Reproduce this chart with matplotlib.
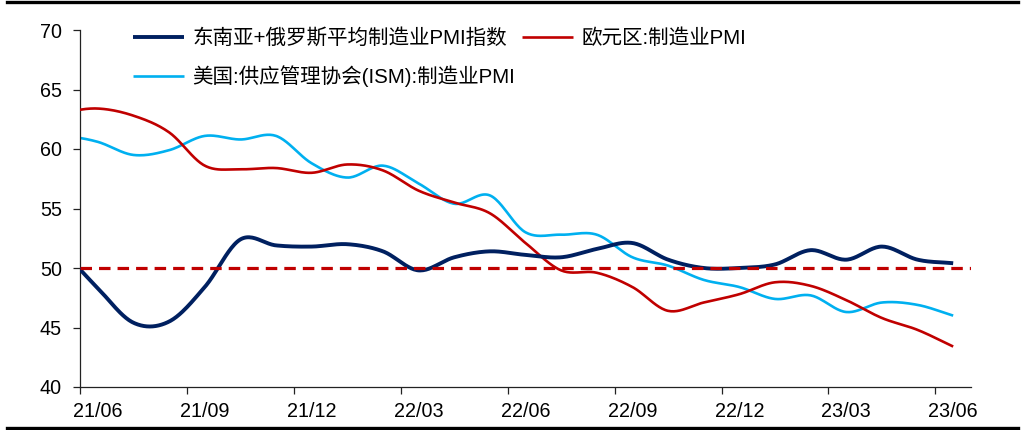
import numpy as np
import matplotlib
matplotlib.use('Agg')
import matplotlib.pyplot as plt
from matplotlib.lines import Line2D

plt.rcParams['font.family'] = ['Liberation Sans', 'Noto Sans CJK SC']

# monthly data, 2021/05 .. 2023/06 (the 2021/05 point sits left of the axis and gets clipped)
months = ['21/05', '21/06', '21/07', '21/08', '21/09', '21/10', '21/11', '21/12',
          '22/01', '22/02', '22/03', '22/04', '22/05', '22/06', '22/07', '22/08',
          '22/09', '22/10', '22/11', '22/12', '23/01', '23/02', '23/03', '23/04',
          '23/05', '23/06']
sea_russia = [51.5, 48.3, 45.4, 45.5, 48.4, 52.4, 51.9, 51.8, 52.0, 51.4, 49.8, 50.9,
              51.4, 51.1, 50.9, 51.6, 52.1, 50.7, 50.0, 50.0, 50.3, 51.5, 50.7, 51.8,
              50.7, 50.4]
eurozone = [63.1, 63.4, 62.8, 61.4, 58.6, 58.3, 58.4, 58.0, 58.7, 58.2, 56.5, 55.5,
            54.6, 52.1, 49.8, 49.6, 48.4, 46.4, 47.1, 47.8, 48.8, 48.5, 47.3, 45.8,
            44.8, 43.4]
us_ism = [61.2, 60.6, 59.5, 59.9, 61.1, 60.8, 61.1, 58.8, 57.6, 58.6, 57.1, 55.4,
          56.1, 53.0, 52.8, 52.8, 50.9, 50.2, 49.0, 48.4, 47.4, 47.7, 46.3, 47.1,
          46.9, 46.0]
tick_labels = ['21/06', '21/09', '21/12', '22/03', '22/06', '22/09', '22/12', '23/03', '23/06']

NAVY = '#002060'
RED = '#C00000'
CYAN = '#00B0F0'


def smooth(x, y, n=24):
    """Catmull-Rom curve through the points (like Excel's smoothed line)."""
    x = np.asarray(x, float)
    y = np.asarray(y, float)
    xp = np.concatenate([[2 * x[0] - x[1]], x, [2 * x[-1] - x[-2]]])
    yp = np.concatenate([[2 * y[0] - y[1]], y, [2 * y[-1] - y[-2]]])
    t = np.linspace(0, 1, n, endpoint=False)
    xs, ys = [], []
    for i in range(1, len(x)):
        for arr, out in ((xp, xs), (yp, ys)):
            p0, p1, p2, p3 = arr[i - 1], arr[i], arr[i + 1], arr[i + 2]
            out.append(0.5 * (2 * p1 + (p2 - p0) * t
                              + (2 * p0 - 5 * p1 + 4 * p2 - p3) * t ** 2
                              + (3 * p1 - p0 - 3 * p2 + p3) * t ** 3))
    xs.append([x[-1]])
    ys.append([y[-1]])
    return np.concatenate(xs), np.concatenate(ys)


x = np.arange(len(months)) - 1          # 21/06 -> 0
label_pos = [months.index(m) - 1 for m in tick_labels]

fig = plt.figure(figsize=(10.27, 4.30), dpi=100)
ax = fig.add_axes([80 / 1027, 1 - 387 / 430, 891 / 1027, 357 / 430])

l1, = ax.plot(*smooth(x, sea_russia), color=NAVY, lw=2.8, solid_capstyle='butt',
              label='东南亚+俄罗斯平均制造业PMI指数', zorder=4)
l2, = ax.plot(*smooth(x, eurozone), color=RED, lw=1.9, solid_capstyle='butt',
              label='欧元区:制造业PMI', zorder=3)
l3, = ax.plot(*smooth(x, us_ism), color=CYAN, lw=1.9, solid_capstyle='butt',
              label='美国:供应管理协会(ISM):制造业PMI', zorder=2)
ax.axhline(50, color=RED, lw=2.3, dashes=(3.6, 2.2), dash_capstyle='butt', zorder=5)

ax.set_xlim(-0.5, len(months) - 1.5)
ax.set_ylim(40, 70)
ax.set_yticks(np.arange(40, 71, 5))

# tick marks at month boundaries, labels centred on the month
ax.set_xticks([p - 0.5 for p in label_pos])
ax.set_xticklabels([])
ax.set_xticks(label_pos, minor=True)
ax.set_xticklabels(tick_labels, minor=True)
ax.tick_params(axis='x', which='major', direction='out', length=5, width=0.9, color='#222222')
ax.tick_params(axis='x', which='minor', length=0, pad=11, labelsize=14.2)
ax.tick_params(axis='y', direction='out', length=5, width=0.9, pad=8, labelsize=14.2,
               color='#222222')

for s in ('top', 'right'):
    ax.spines[s].set_visible(False)
for s in ('left', 'bottom'):
    ax.spines[s].set_color('#222222')
    ax.spines[s].set_linewidth(0.9)

ax.legend(handles=[l1, l3, l2], ncol=2, loc='upper left',
          bbox_to_anchor=(133 / 1027, 1 - 28 / 430), bbox_transform=fig.transFigure,
          frameon=False, fontsize=14.8, handlelength=2.5, handletextpad=0.4,
          columnspacing=0.3, labelspacing=0.85, borderpad=0, borderaxespad=0)

# black rules above and below the chart
fig.add_artist(Line2D([7 / 1027, 1018 / 1027], [1 - 1.5 / 430] * 2,
                      transform=fig.transFigure, color='black', lw=2.4))
fig.add_artist(Line2D([7 / 1027, 1018 / 1027], [1 - 427.5 / 430] * 2,
                      transform=fig.transFigure, color='black', lw=2.4))

fig.savefig('out.png', dpi=100, facecolor='white')
